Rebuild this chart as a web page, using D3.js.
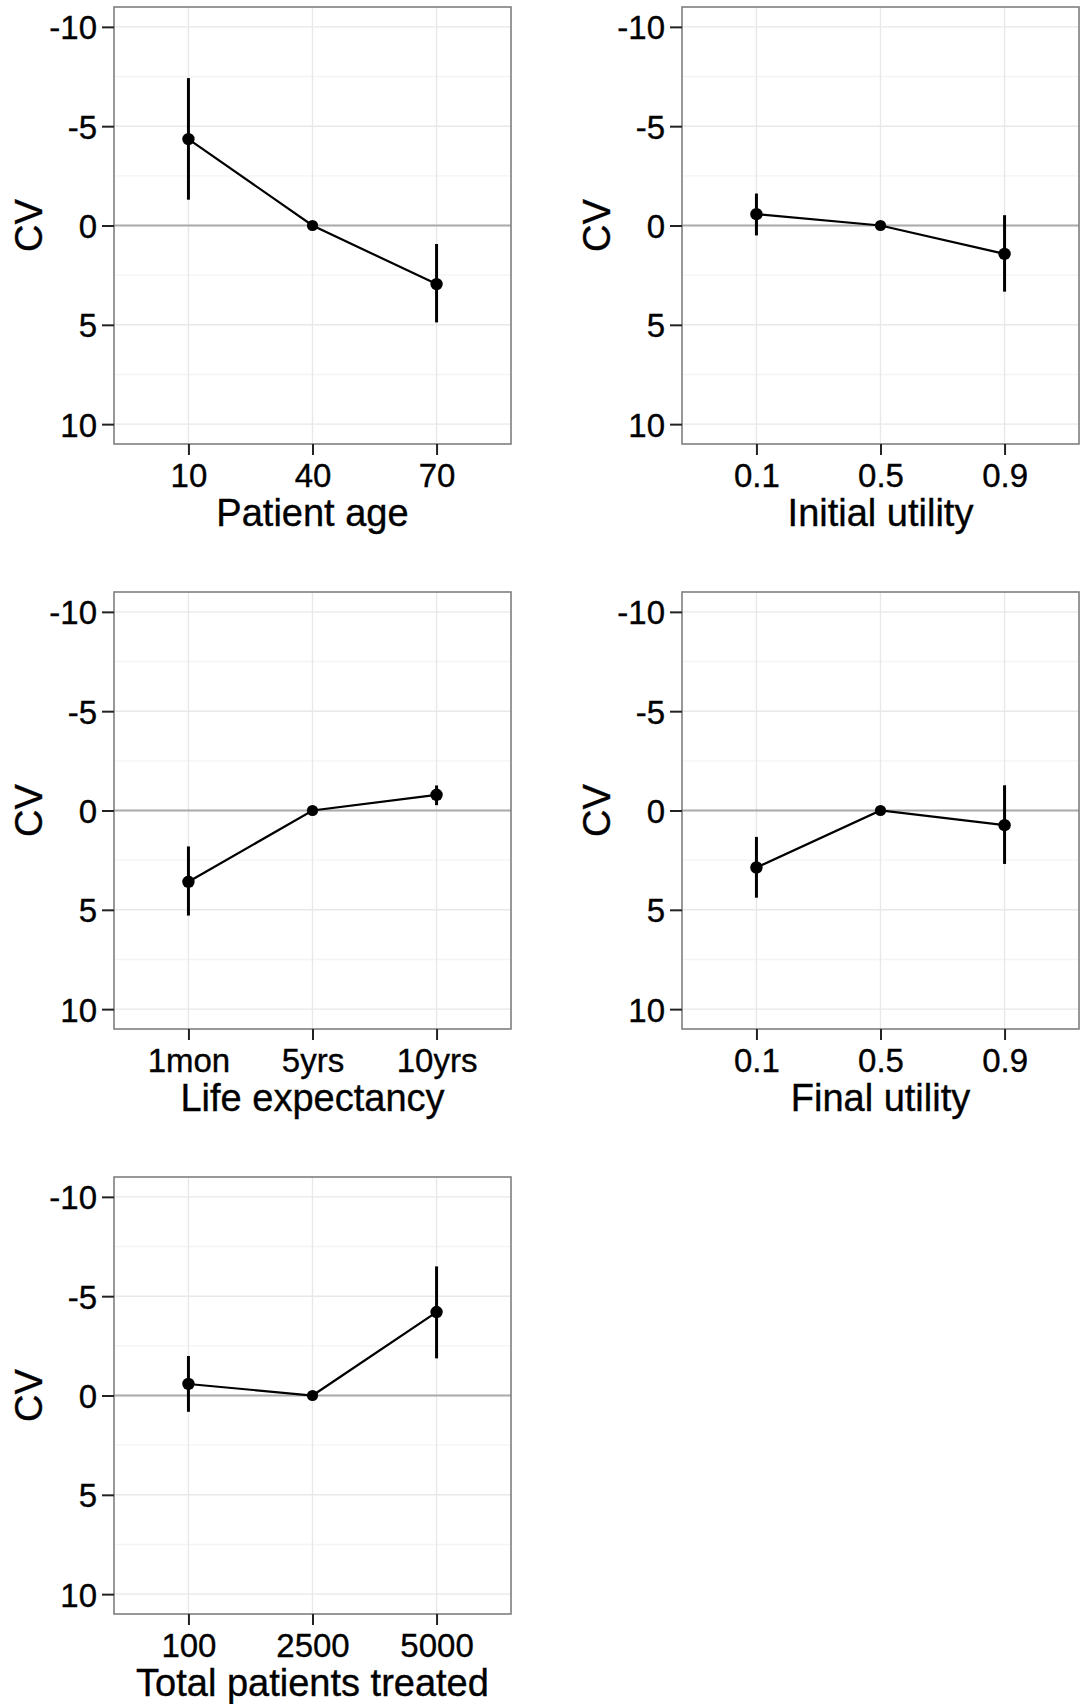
<!DOCTYPE html>
<html>
<head>
<meta charset="utf-8">
<script src="https://cdn.jsdelivr.net/npm/d3@7"></script>
<style>
  html, body { margin: 0; padding: 0; background: #ffffff; }
  svg { display: block; font-family: "Liberation Sans", Arial, sans-serif; }
</style>
</head>
<body>
<svg id="chart" width="1080" height="1704"></svg>
<script>
// Panel titles (x-axis labels) and category labels
const panelTitles = ["Patient age", "Initial utility", "Life expectancy", "Final utility", "Total patients treated"];
const ageLevels = ["10", "40", "70"];
const initialUtilityLevels = ["0.1", "0.5", "0.9"];
const lifeLevels = ["1mon", "5yrs", "10yrs"];
const finalUtilityLevels = ["0.1", "0.5", "0.9"];
const patientsLevels = ["100", "2500", "5000"];

// CV estimates with interval bounds (middle level is the reference, 0)
const ageCV = [-4.35, 0, 2.95];
const ageLow = [-7.42, 0, 0.93];
const ageHigh = [-1.3, 0, 4.88];

const initialCV = [-0.57, 0, 1.43];
const initialLow = [-1.61, 0, -0.52];
const initialHigh = [0.5, 0, 3.33];

const lifeCV = [3.59, 0, -0.79];
const lifeLow = [1.81, 0, -1.26];
const lifeHigh = [5.29, 0, -0.27];

const finalCV = [2.87, 0, 0.74];
const finalLow = [1.33, 0, -1.27];
const finalHigh = [4.39, 0, 2.69];

const patientsCV = [-0.58, 0, -4.2];
const patientsLow = [-1.99, 0, -6.5];
const patientsHigh = [0.82, 0, -1.87];

const yTicks = [-10, -5, 0, 5, 10];
const yMinor = [-7.5, -2.5, 2.5, 7.5];

const panels = [
  { title: panelTitles[0], levels: ageLevels, cv: ageCV, lo: ageLow, hi: ageHigh, col: 0, row: 0 },
  { title: panelTitles[1], levels: initialUtilityLevels, cv: initialCV, lo: initialLow, hi: initialHigh, col: 1, row: 0 },
  { title: panelTitles[2], levels: lifeLevels, cv: lifeCV, lo: lifeLow, hi: lifeHigh, col: 0, row: 1 },
  { title: panelTitles[3], levels: finalUtilityLevels, cv: finalCV, lo: finalLow, hi: finalHigh, col: 1, row: 1 },
  { title: panelTitles[4], levels: patientsLevels, cv: patientsCV, lo: patientsLow, hi: patientsHigh, col: 0, row: 2 }
];

const svg = d3.select("#chart");
svg.append("rect").attr("width", 1080).attr("height", 1704).attr("fill", "#ffffff");

const W = 397, H = 437;
const colX = [114, 682];
const rowY = [7, 592, 1177];
const FONT = "Liberation Sans, Arial, sans-serif";

panels.forEach(p => {
  const g = svg.append("g").attr("transform", `translate(${colX[p.col]},${rowY[p.row]})`);

  const x = d3.scalePoint().domain(p.levels).range([0, W]).padding(0.6);
  const y = d3.scaleLinear().domain([-11, 11]).range([0, H]);

  // minor grid
  g.selectAll(".minor").data(yMinor).join("line")
    .attr("x1", 0).attr("x2", W)
    .attr("y1", d => y(d)).attr("y2", d => y(d))
    .attr("stroke", "#f4f4f4").attr("stroke-width", 1.4);

  // major grid
  g.selectAll(".majorY").data(yTicks).join("line")
    .attr("x1", 0).attr("x2", W)
    .attr("y1", d => y(d)).attr("y2", d => y(d))
    .attr("stroke", "#e8e8e8").attr("stroke-width", 1.4);
  g.selectAll(".majorX").data(p.levels).join("line")
    .attr("x1", d => x(d)).attr("x2", d => x(d))
    .attr("y1", 0).attr("y2", H)
    .attr("stroke", "#e8e8e8").attr("stroke-width", 1.4);

  // reference line at zero
  g.append("line")
    .attr("x1", 0).attr("x2", W)
    .attr("y1", y(0)).attr("y2", y(0))
    .attr("stroke", "#ababab").attr("stroke-width", 2);

  // connecting line
  const pts = p.levels.map((l, i) => ({ l, v: p.cv[i], lo: p.lo[i], hi: p.hi[i] }));
  g.append("path")
    .datum(pts)
    .attr("d", d3.line().x(d => x(d.l)).y(d => y(d.v)))
    .attr("fill", "none").attr("stroke", "#000").attr("stroke-width", 2.2);

  // interval bars
  g.selectAll(".err").data(pts.filter(d => d.lo !== d.hi)).join("line")
    .attr("x1", d => x(d.l)).attr("x2", d => x(d.l))
    .attr("y1", d => y(d.lo)).attr("y2", d => y(d.hi))
    .attr("stroke", "#000").attr("stroke-width", 3);

  // points
  g.selectAll(".pt").data(pts).join("circle")
    .attr("cx", d => x(d.l)).attr("cy", d => y(d.v))
    .attr("r", d => d.lo === d.hi ? 5.6 : 6.2).attr("fill", "#000");

  // panel border
  g.append("rect")
    .attr("x", 0).attr("y", 0).attr("width", W).attr("height", H)
    .attr("fill", "none").attr("stroke", "#7f7f7f").attr("stroke-width", 1.6);

  // y axis
  const ya = g.append("g").call(d3.axisLeft(y).tickValues(yTicks).tickSize(12).tickPadding(5).tickFormat(d => String(d)));
  ya.select(".domain").remove();
  ya.selectAll(".tick line").attr("stroke", "#222").attr("stroke-width", 2);
  ya.selectAll(".tick text").attr("fill", "#000").attr("font-size", 33)
    .attr("font-family", FONT).attr("dy", "0.36em")
    .attr("stroke", "#000").attr("stroke-width", 0.35);

  // x axis
  const xa = g.append("g").attr("transform", `translate(0,${H})`)
    .call(d3.axisBottom(x).tickSize(11).tickPadding(9));
  xa.select(".domain").remove();
  xa.selectAll(".tick line").attr("stroke", "#222").attr("stroke-width", 2);
  xa.selectAll(".tick text").attr("fill", "#000").attr("font-size", 33)
    .attr("font-family", FONT).attr("dy", "0.71em")
    .attr("stroke", "#000").attr("stroke-width", 0.35);

  // axis titles
  g.append("text")
    .attr("x", W / 2).attr("y", H + 82)
    .attr("text-anchor", "middle").attr("font-size", 38).attr("fill", "#000")
    .attr("stroke", "#000").attr("stroke-width", 0.35)
    .text(p.title);
  g.append("text")
    .attr("transform", `translate(-72,${y(0)}) rotate(-90)`)
    .attr("text-anchor", "middle").attr("font-size", 38).attr("fill", "#000")
    .attr("stroke", "#000").attr("stroke-width", 0.35)
    .text("CV");
});
</script>
</body>
</html>
